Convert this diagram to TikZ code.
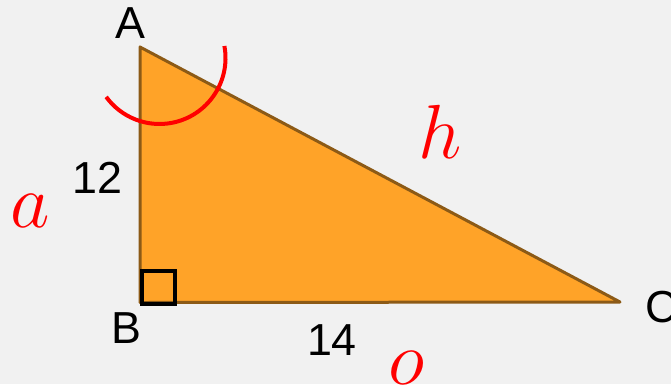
\RequirePackage{fix-cm}
\documentclass[tikz,border=0pt]{standalone}
\usepackage{fontspec}
\newfontfamily\labelfont{Liberation Sans}
\begin{document}
\begin{tikzpicture}[x=1bp,y=-1bp,
  lbl/.style={font=\labelfont\fontsize{45}{50}\selectfont, inner sep=0pt, text=black},
  varlbl/.style={font=\fontsize{77}{80}\selectfont, inner sep=0pt, text=red},
  tri/.style={draw=triedge, fill=trifill, line width=3bp, line join=round},
]
\definecolor{bgc}{HTML}{F1F1F1}
\definecolor{trifill}{HTML}{FFA328}
\definecolor{triedge}{HTML}{8C5A16}
\fill[bgc] (0,0) rectangle (671,384);
\useasboundingbox (0,0) rectangle (671,384);
\coordinate (A) at (140,47);
\coordinate (B) at (140,302.5);
\coordinate (C) at (620,302);
\draw[tri] (A) -- (B) -- (C) -- cycle;
% right angle mark
\coordinate (sq1) at (142,271);
\coordinate (sq2) at (175,304);
\draw[black, line width=3.2bp] (sq1) rectangle (sq2);
% angle arc at A
\coordinate (arcc) at (159.5,58);
\draw[red, line width=4bp] (arcc) ++(-10.5:66) arc[start angle=-10.5, end angle=143.9, radius=66];
% labels
\node[lbl, anchor=base] (lA) at (130,38) {A};
\node[lbl, anchor=base] (lB) at (126,343) {B};
\node[lbl, anchor=base west] (lC) at (645,322) {C};
\node[lbl, anchor=base] (l12) at (97.5,193) {12};
\node[lbl, anchor=base] (l14) at (332,355) {14};
\node[varlbl, anchor=base] (la) at (30.5,227) {$a$};
\node[varlbl, anchor=base] (lh) at (440,158) {$h$};
\node[varlbl, anchor=base] (lo) at (407,384) {$o$};
\end{tikzpicture}
\end{document}
